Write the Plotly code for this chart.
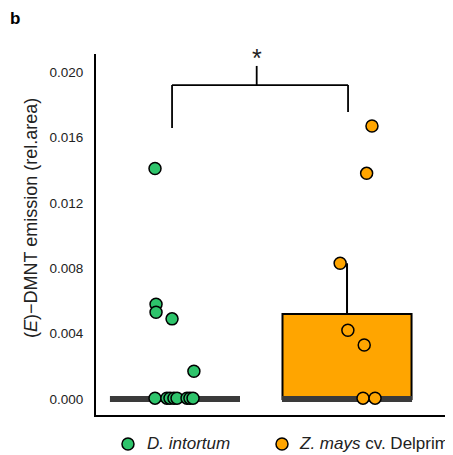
import plotly.graph_objects as go

# ---- data ----
groups = ["D. intortum", "Z. mays cv. Delprim"]
green_vals = [0.0141, 0.0058, 0.0053, 0.0049, 0.0017,
              0.00005, 0.00005, 0.00005, 0.00005, 0.00005, 0.00005, 0.00005, 0.00005]
green_jitter = [-0.116, -0.11, -0.11, -0.017, 0.11,
                -0.116, -0.047, -0.029, -0.006, 0.012, 0.07, 0.087, 0.105]
orange_vals = [0.0167, 0.0138, 0.0083, 0.0042, 0.0033, 0.00005, 0.00005]
orange_jitter = [0.145, 0.114, -0.04, 0.005, 0.1, 0.093, 0.163]
box_q1 = [0.0, 0.0]
box_median = [0.0, 0.0]
box_q3 = [0.0, 0.0052]
box_low = [0.0, 0.0]
box_up = [0.0, 0.0083]
yticks = [0.0, 0.004, 0.008, 0.012, 0.016, 0.020]
ytick_labels = ["0.000", "0.004", "0.008", "0.012", "0.016", "0.020"]

GREEN = "#2EC46B"
ORANGE = "#FFA500"
FONT = "Liberation Sans, Arial, sans-serif"

fig = go.Figure()

fills = ["rgba(0,0,0,0)", ORANGE]
for i in range(2):
    fig.add_trace(go.Box(
        x=[i], q1=[box_q1[i]], median=[box_median[i]], q3=[box_q3[i]],
        lowerfence=[box_low[i]], upperfence=[box_up[i]],
        width=0.75, whiskerwidth=0, fillcolor=fills[i],
        line=dict(color="black", width=2), boxpoints=False,
        hoverinfo="skip", showlegend=False))

# thick median bars
for i in range(2):
    fig.add_trace(go.Scatter(
        x=[i - 0.378, i + 0.378], y=[box_median[i], box_median[i]],
        mode="lines", line=dict(color="#3A3A3A", width=6),
        hoverinfo="skip", showlegend=False))

fig.add_trace(go.Scatter(
    x=[0 + j for j in green_jitter], y=green_vals, mode="markers",
    marker=dict(size=12, color=GREEN, line=dict(color="black", width=1.5)),
    showlegend=False, hoverinfo="skip"))
fig.add_trace(go.Scatter(
    x=[1 + j for j in orange_jitter], y=orange_vals, mode="markers",
    marker=dict(size=12, color=ORANGE, line=dict(color="black", width=1.5)),
    showlegend=False, hoverinfo="skip"))

# significance bracket
br = dict(type="line", xref="x", yref="y", line=dict(color="black", width=1.8))
fig.add_shape(**br, x0=-0.017, x1=-0.017, y0=0.01657, y1=0.0192)
fig.add_shape(**br, x0=-0.017, x1=1.006, y0=0.0192, y1=0.0192)
fig.add_shape(**br, x0=1.006, x1=1.006, y0=0.01755, y1=0.0192)
fig.add_shape(**br, x0=0.475, x1=0.475, y0=0.0192, y1=0.02037)
fig.add_annotation(x=0.475, y=0.99, xref="x", yref="paper", text="*",
                   showarrow=False, yanchor="middle",
                   font=dict(size=25, color="#222", family=FONT))

# panel label
fig.add_annotation(x=-0.2465, y=1.097, xref="paper", yref="paper", text="<b>b</b>",
                   showarrow=False, xanchor="left", yanchor="middle",
                   font=dict(size=17, color="black", family=FONT))

# y-axis title
fig.add_annotation(x=-0.182, y=0.5457, xref="paper", yref="paper",
                   text="(<i>E</i>)\u2212DMNT emission (rel.area)", textangle=-90,
                   showarrow=False, xanchor="center", yanchor="middle",
                   font=dict(size=18, color="#222", family=FONT))

# legend (manual)
leg = [(0.0896, 0.137, GREEN, "<i>D. intortum</i>"),
       (0.521, 0.563, ORANGE, "<i>Z. mays</i> cv. Delprim")]
for xp, xt, col, txt in leg:
    fig.add_shape(type="circle", xref="paper", yref="paper", xsizemode="pixel", ysizemode="pixel",
                  xanchor=xp, yanchor=-0.0803, x0=-6, x1=6, y0=-6, y1=6,
                  fillcolor=col, line=dict(color="black", width=1.5))
    fig.add_annotation(x=xt, y=-0.0803, xref="paper", yref="paper", text=txt,
                       showarrow=False, xanchor="left", yanchor="middle",
                       font=dict(size=17, color="#222", family=FONT))

# page body has an 8px margin: the figure is sized and offset to compensate
fig.update_layout(
    width=445, height=447,
    margin=dict(l=88, r=0, t=46, b=40),
    paper_bgcolor="white", plot_bgcolor="white",
    boxmode="overlay",
    font=dict(family=FONT, color="#222"),
    xaxis=dict(range=[-0.459, 1.616], showticklabels=False, ticks="", showgrid=False,
               zeroline=False, showline=True, linecolor="black", linewidth=2),
    yaxis=dict(range=[-0.00098, 0.0211], tickvals=yticks, ticktext=ytick_labels,
               ticks="outside", ticklen=8, tickcolor="rgba(0,0,0,0)",
               tickfont=dict(size=13.5, color="#222", family=FONT),
               showgrid=False, zeroline=False, showline=True, linecolor="black", linewidth=2),
)

fig.write_html("out.html")
